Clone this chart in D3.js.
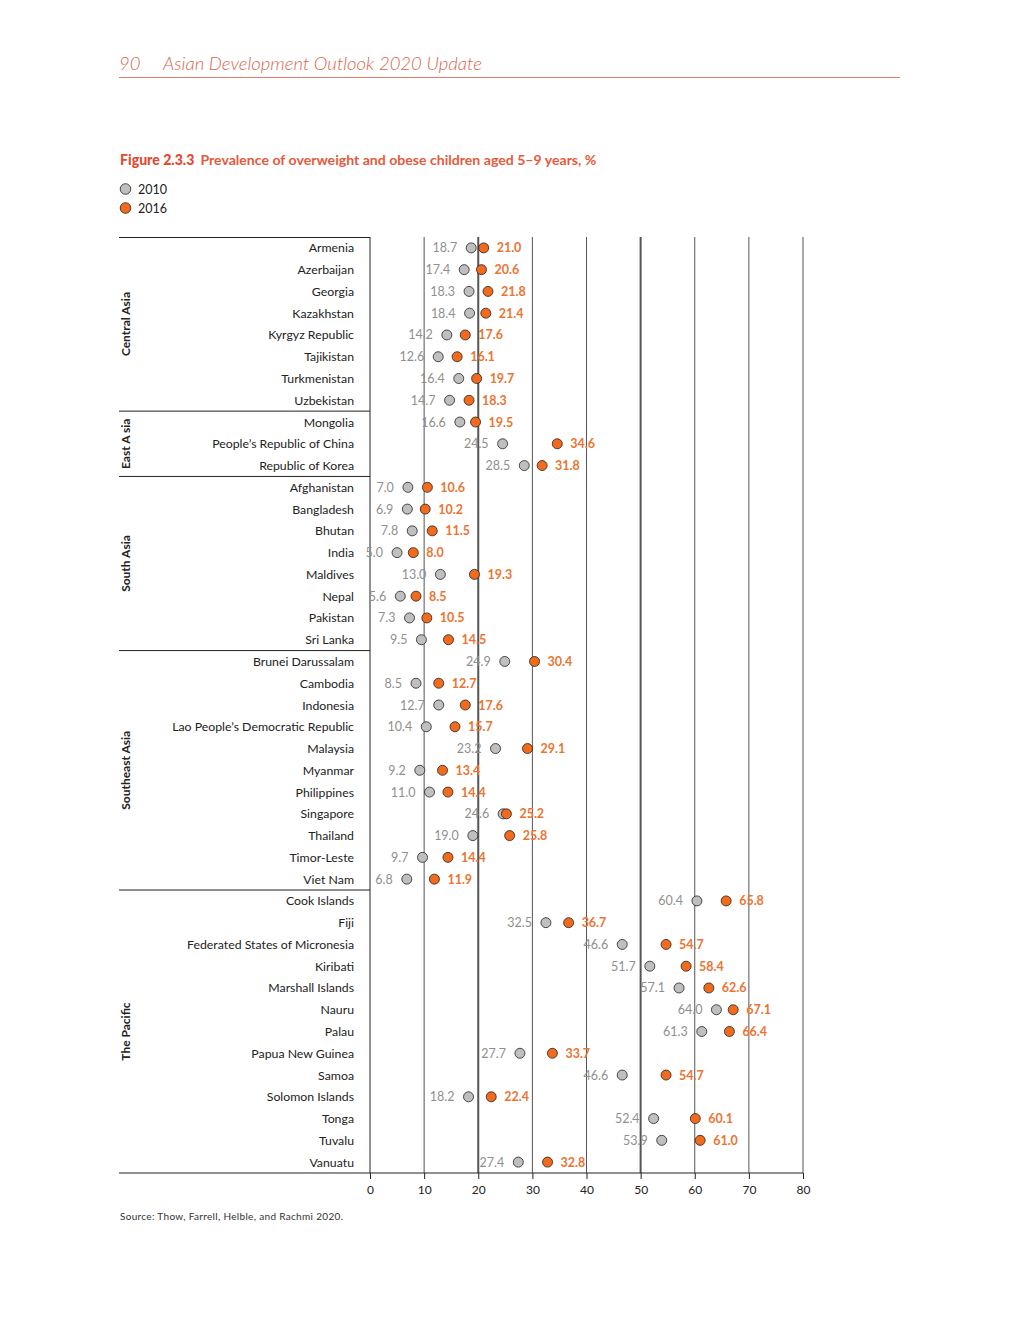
<!DOCTYPE html>
<html>
<head>
<meta charset="utf-8">
<script src="https://cdn.jsdelivr.net/npm/d3@7"></script>
<style>
  body { margin: 0; background: #fff; }
  svg { display: block; font-family: Lato, "Open Sans", sans-serif; }
</style>
</head>
<body>
<svg width="1020" height="1320"></svg>
<script>
// Countries, in drawing order
const countries = [
  "Armenia", "Azerbaijan", "Georgia", "Kazakhstan", "Kyrgyz Republic", "Tajikistan", "Turkmenistan", "Uzbekistan",
  "Mongolia", "People\u2019s Republic of China", "Republic of Korea",
  "Afghanistan", "Bangladesh", "Bhutan", "India", "Maldives", "Nepal", "Pakistan", "Sri Lanka",
  "Brunei Darussalam", "Cambodia", "Indonesia", "Lao People\u2019s Democratic Republic", "Malaysia", "Myanmar",
  "Philippines", "Singapore", "Thailand", "Timor-Leste", "Viet Nam",
  "Cook Islands", "Fiji", "Federated States of Micronesia", "Kiribati", "Marshall Islands", "Nauru", "Palau",
  "Papua New Guinea", "Samoa", "Solomon Islands", "Tonga", "Tuvalu", "Vanuatu"
];

const values2010 = [
  18.7, 17.4, 18.3, 18.4, 14.2, 12.6, 16.4, 14.7,
  16.6, 24.5, 28.5,
  7.0, 6.9, 7.8, 5.0, 13.0, 5.6, 7.3, 9.5,
  24.9, 8.5, 12.7, 10.4, 23.2, 9.2, 11.0, 24.6, 19.0, 9.7, 6.8,
  60.4, 32.5, 46.6, 51.7, 57.1, 64.0, 61.3, 27.7, 46.6, 18.2, 52.4, 53.9, 27.4
];

const values2016 = [
  21.0, 20.6, 21.8, 21.4, 17.6, 16.1, 19.7, 18.3,
  19.5, 34.6, 31.8,
  10.6, 10.2, 11.5, 8.0, 19.3, 8.5, 10.5, 14.5,
  30.4, 12.7, 17.6, 15.7, 29.1, 13.4, 14.4, 25.2, 25.8, 14.4, 11.9,
  65.8, 36.7, 54.7, 58.4, 62.6, 67.1, 66.4, 33.7, 54.7, 22.4, 60.1, 61.0, 32.8
];

// Regional groups: name and number of countries
const groupNames = ["Central Asia", "East A sia", "South Asia", "Southeast Asia", "The Pacific"];
const groupSizes = [8, 3, 8, 11, 13];

const xTicks = [0, 10, 20, 30, 40, 50, 60, 70, 80];
const seriesNames = ["2010", "2016"];

const grey = "#bfbfbf";
const orange = "#f26b1d";
const red = "#e2492f";

const svg = d3.select("svg");

// Page header
svg.append("text")
  .attr("x", 119).attr("y", 70)
  .attr("fill", "#d9654d")
  .attr("font-size", 18.5).attr("font-style", "italic").attr("font-weight", 300)
  .text("90");
svg.append("text")
  .attr("x", 163).attr("y", 70)
  .attr("fill", "#d9654d")
  .attr("font-size", 18.5).attr("font-style", "italic").attr("font-weight", 300)
  .text("Asian Development Outlook 2020 Update");
svg.append("line")
  .attr("x1", 119).attr("x2", 900).attr("y1", 77.5).attr("y2", 77.5)
  .attr("stroke", "#e4806a").attr("stroke-width", 1);

// Figure title
const title = svg.append("text")
  .attr("x", 120).attr("y", 165)
  .attr("font-size", 14.1).attr("fill", red);
title.append("tspan").attr("font-weight", 900).text("Figure 2.3.3");
title.append("tspan").attr("dx", 6).attr("font-weight", 700).attr("fill", "#e65a3c")
  .text("Prevalence of overweight and obese children aged 5\u20139 years, %");

// Legend
const legend = svg.append("g");
seriesNames.forEach((name, i) => {
  legend.append("circle")
    .attr("cx", 125.5).attr("cy", 189 + i * 19).attr("r", 5.3)
    .attr("fill", i === 0 ? grey : orange)
    .attr("stroke", "#222").attr("stroke-width", 0.8);
  legend.append("text")
    .attr("x", 138).attr("y", 193.5 + i * 19)
    .attr("font-size", 12.5).attr("fill", "#222")
    .text(name);
});

// Chart geometry
const plotLeft = 370, plotRight = 803, plotTop = 237, plotBottom = 1173;

const xScale = d3.scaleLinear().domain([0, 80]).range([plotLeft, plotRight]);
const yScale = d3.scaleBand().domain(countries).range([plotTop, plotBottom]);
const bw = yScale.bandwidth();
const yc = (c) => yScale(c) + bw / 2;

// Vertical gridlines
svg.append("g")
  .selectAll("line")
  .data(xTicks.filter(t => t > 0))
  .enter()
  .append("line")
  .attr("x1", d => xScale(d)).attr("x2", d => xScale(d))
  .attr("y1", plotTop).attr("y2", plotBottom)
  .attr("stroke", "#555")
  .attr("stroke-width", d => (d === 20 || d === 50) ? 2 : 1);

// Group separators, left axis, bottom axis
let start = 0;
const groups = groupNames.map((name, i) => {
  const g = { name, first: countries[start], last: countries[start + groupSizes[i] - 1] };
  start += groupSizes[i];
  return g;
});

svg.append("line")
  .attr("x1", 119).attr("x2", plotLeft).attr("y1", plotTop + 0.5).attr("y2", plotTop + 0.5)
  .attr("stroke", "#222");
groups.slice(1).forEach(g => {
  svg.append("line")
    .attr("x1", 119).attr("x2", plotLeft)
    .attr("y1", yScale(g.first)).attr("y2", yScale(g.first))
    .attr("stroke", "#222");
});
svg.append("line")
  .attr("x1", plotLeft).attr("x2", plotLeft).attr("y1", plotTop).attr("y2", plotBottom)
  .attr("stroke", "#222");

// X axis
const xAxis = d3.axisBottom(xScale).tickValues(xTicks).tickSize(6).tickPadding(6);
const axisG = svg.append("g")
  .attr("transform", `translate(0, ${plotBottom})`)
  .call(xAxis);
axisG.select(".domain").remove();
axisG.insert("line", ":first-child")
  .attr("x1", 119).attr("x2", plotRight).attr("y1", 0).attr("y2", 0)
  .attr("stroke", "#222");
axisG.selectAll(".tick line").attr("stroke", "#222");
axisG.selectAll(".tick text")
  .attr("font-family", "Lato, sans-serif").attr("font-size", 12).attr("fill", "#222");

// Group labels
groups.forEach(g => {
  const cy = (yScale(g.first) + yScale(g.last) + bw) / 2;
  svg.append("text")
    .attr("transform", `translate(130, ${cy}) rotate(-90)`)
    .attr("text-anchor", "middle")
    .attr("font-size", 12).attr("font-weight", 700).attr("fill", "#222")
    .text(g.name);
});

// Country labels
svg.append("g")
  .selectAll("text")
  .data(countries)
  .enter()
  .append("text")
  .attr("x", 354).attr("y", d => yc(d) + 4.5)
  .attr("text-anchor", "end")
  .attr("font-size", 12.3).attr("fill", "#222")
  .text(d => d);

// Data rows
const rows = countries.map((c, i) => ({ c, a: values2010[i], b: values2016[i] }));

const dots = svg.append("g");
rows.forEach(d => {
  dots.append("text")
    .attr("x", xScale(d.a) - 14).attr("y", yc(d.c) + 4.5)
    .attr("text-anchor", "end")
    .attr("font-size", 12.5).attr("fill", "#8f8f8f")
    .text(d.a.toFixed(1));
  dots.append("text")
    .attr("x", xScale(d.b) + 13).attr("y", yc(d.c) + 4.5)
    .attr("font-size", 12.5).attr("font-weight", 700).attr("fill", "#ec7432")
    .text(d.b.toFixed(1));
  dots.append("circle")
    .attr("cx", xScale(d.a)).attr("cy", yc(d.c)).attr("r", 5)
    .attr("fill", grey).attr("stroke", "#222").attr("stroke-width", 0.8);
  dots.append("circle")
    .attr("cx", xScale(d.b)).attr("cy", yc(d.c)).attr("r", 5)
    .attr("fill", orange).attr("stroke", "#222").attr("stroke-width", 0.8);
});

// Source note
svg.append("text")
  .attr("x", 120).attr("y", 1220)
  .attr("font-size", 10).attr("fill", "#333")
  .attr("textLength", 223)
  .text("Source: Thow, Farrell, Helble, and Rachmi 2020.");
</script>
</body>
</html>
